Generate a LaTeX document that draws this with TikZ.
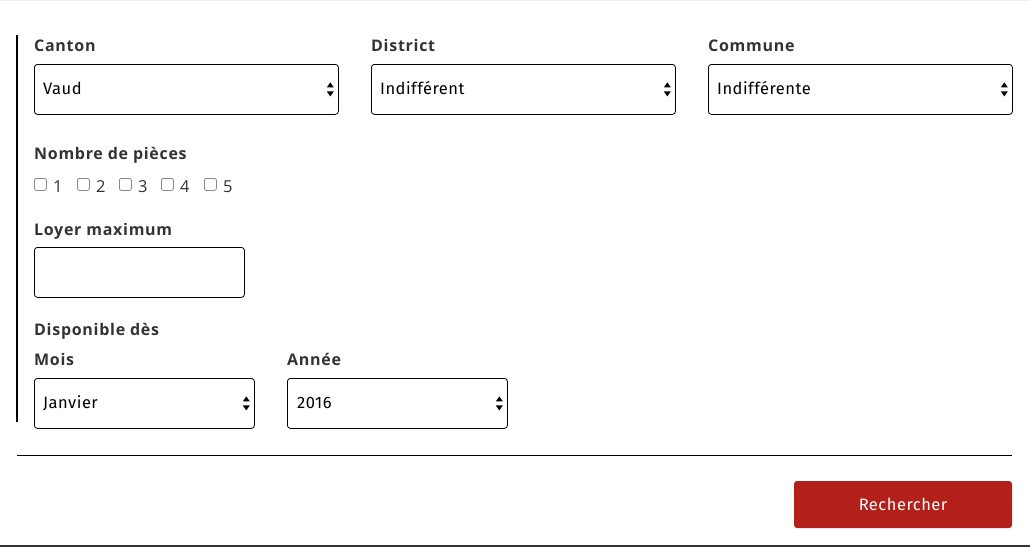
\documentclass[tikz,border=0pt]{standalone}
\usepackage{fontspec}
\setmainfont{Open Sans}
\newfontfamily\valfont[LetterSpace=3]{Fira Sans}
\newfontfamily\lblfont[LetterSpace=4.5]{Open Sans}
\usetikzlibrary{positioning}

\definecolor{labelgray}{HTML}{333333}
\definecolor{boxgray}{HTML}{8A8A8A}
\definecolor{btnred}{HTML}{B31F19}
\definecolor{topgray}{HTML}{EEEEEE}

% up/down arrows of a select box
\newcommand{\updown}[1]{%
  \fill ([xshift=-5pt,yshift=2pt]#1.east) -- ++(-7,0) -- ++(3.5,-5) -- cycle;
  \fill ([xshift=-5pt,yshift=-2pt]#1.east) -- ++(-7,0) -- ++(3.5,5) -- cycle;
}

\begin{document}
\begin{tikzpicture}[x=1pt,y=-1pt,
  fieldlabel/.style={anchor=base west, inner sep=0pt, text=labelgray, font=\lblfont\fontsize{16}{19}\selectfont\bfseries},
  selectbox/.style={draw=black, thick, rounded corners=3pt, anchor=north west, minimum height=50pt},
  valtext/.style={anchor=base west, inner sep=0pt, font=\valfont\fontsize{16.5}{19}\selectfont},
  checkbox/.style={draw=boxgray, line width=0.8pt, rounded corners=2pt, anchor=north west, minimum size=12pt, inner sep=0pt},
  checktext/.style={anchor=base west, inner sep=0pt, text=labelgray, font=\lblfont\fontsize{16.5}{19}\selectfont}]
  \useasboundingbox (0,0) rectangle (1030,547);

  \draw [topgray, line width=1pt] (0,0.5) -- (1030,0.5);
  \coordinate (barT) at (17,35);
  \coordinate (barB) at (17,422);
  \draw [line width=1.2pt] (barT) -- (barB);

  % first row
  \node [fieldlabel] (cantonlbl) at (34,51) {Canton};
  \node [fieldlabel] (districtlbl) at (371,51) {District};
  \node [fieldlabel] (communelbl) at (708,51) {Commune};

  \node [selectbox, minimum width=304pt] (canton) at (34,64) {};
  \node [selectbox, minimum width=304pt] (district) at (371,64) {};
  \node [selectbox, minimum width=304pt] (commune) at (708,64) {};

  \node [valtext] (cantonval) at ([xshift=9pt,yshift=-5pt]canton.west) {Vaud};
  \node [valtext] (districtval) at ([xshift=9pt,yshift=-5pt]district.west) {Indifférent};
  \node [valtext] (communeval) at ([xshift=9pt,yshift=-5pt]commune.west) {Indifférente};

  \updown{canton}
  \updown{district}
  \updown{commune}

  % rooms
  \node [fieldlabel] (pieceslbl) at (34,159) {Nombre de pièces};
  \foreach \n/\x in {1/34,2/77,3/119,4/161,5/204} {
    \node [checkbox] (cb\n) at (\x,178) {};
    \node [checktext] (cbt\n) at ([xshift=6pt,yshift=-2pt]cb\n.south east) {\n};
  }

  % rent
  \node [fieldlabel] (loyerlbl) at (34,235) {Loyer maximum};
  \node [selectbox, minimum width=210pt] (loyer) at (34,247) {};

  % date
  \node [fieldlabel] (dispolbl) at (34,335) {Disponible dès};
  \node [fieldlabel] (moislbl) at (34,365) {Mois};
  \node [fieldlabel] (anneelbl) at (287,365) {Année};

  \node [selectbox, minimum width=220pt] (mois) at (34,378) {};
  \node [selectbox, minimum width=220pt] (annee) at (287,378) {};

  \node [valtext] (moisval) at ([xshift=9pt,yshift=-5pt]mois.west) {Janvier};
  \node [valtext] (anneeval) at ([xshift=10pt,yshift=-5pt]annee.west) {2016};

  \updown{mois}
  \updown{annee}

  % footer
  \coordinate (ruleL) at (17,455);
  \coordinate (ruleR) at (1012,455);
  \draw [line width=1pt] (ruleL) -- (ruleR);

  \node [fill=btnred, rounded corners=3pt, minimum width=218pt, minimum height=47pt,
         text=white, font=\valfont\fontsize{16.5}{19}\selectfont] (search) at (903,504.5) {Rechercher};

  \coordinate (botL) at (0,546);
  \coordinate (botR) at (1030,546);
  \draw [labelgray, line width=1.5pt] (botL) -- (botR);
\end{tikzpicture}
\end{document}
